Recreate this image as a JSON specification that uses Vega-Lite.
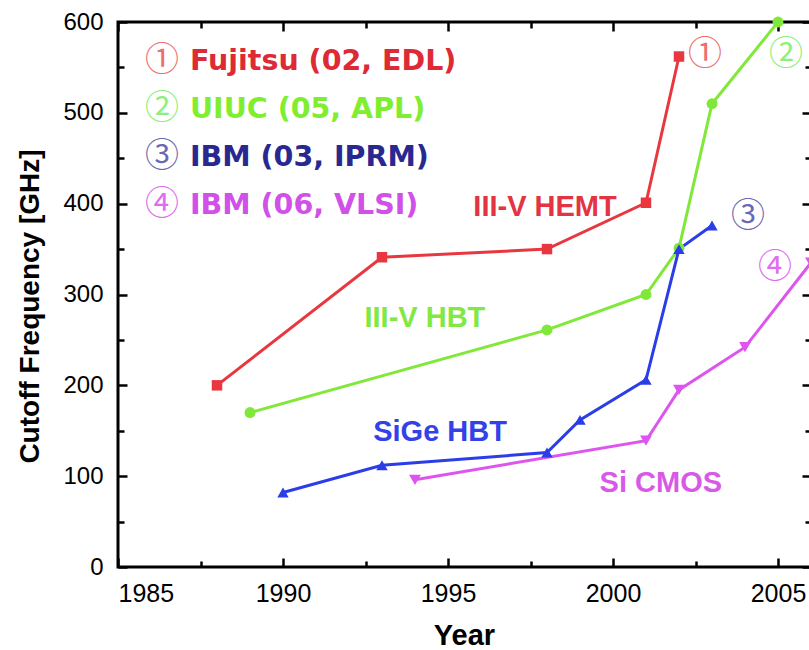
{
  "$schema": "https://vega.github.io/schema/vega-lite/v6.json",
  "width": 693,
  "height": 545,
  "autosize": {"type": "none"},
  "padding": {"left": 118, "top": 22, "right": 0, "bottom": 83},
  "background": "white",
  "config": {
    "view": {"stroke": "black", "strokeWidth": 3},
    "axis": {
      "domain": false,
      "grid": false,
      "tickColor": "black",
      "tickWidth": 2.5,
      "labelColor": "black",
      "labelFont": "Liberation Sans",
      "titleFont": "Liberation Sans",
      "titleColor": "black"
    }
  },
  "datasets": {
    "series": [
      {"series": "III-V HEMT", "year": 1988, "ghz": 200},
      {"series": "III-V HEMT", "year": 1993, "ghz": 341},
      {"series": "III-V HEMT", "year": 1998, "ghz": 350},
      {"series": "III-V HEMT", "year": 2001, "ghz": 401},
      {"series": "III-V HEMT", "year": 2002, "ghz": 562},
      {"series": "III-V HBT", "year": 1989, "ghz": 170},
      {"series": "III-V HBT", "year": 1998, "ghz": 261},
      {"series": "III-V HBT", "year": 2001, "ghz": 300},
      {"series": "III-V HBT", "year": 2002, "ghz": 351},
      {"series": "III-V HBT", "year": 2003, "ghz": 510},
      {"series": "III-V HBT", "year": 2005, "ghz": 600},
      {"series": "SiGe HBT", "year": 1990, "ghz": 82},
      {"series": "SiGe HBT", "year": 1993, "ghz": 112},
      {"series": "SiGe HBT", "year": 1998, "ghz": 126},
      {"series": "SiGe HBT", "year": 1999, "ghz": 162},
      {"series": "SiGe HBT", "year": 2001, "ghz": 206},
      {"series": "SiGe HBT", "year": 2002, "ghz": 350},
      {"series": "SiGe HBT", "year": 2003, "ghz": 376},
      {"series": "Si CMOS", "year": 1994, "ghz": 96},
      {"series": "Si CMOS", "year": 2001, "ghz": 139},
      {"series": "Si CMOS", "year": 2002, "ghz": 195},
      {"series": "Si CMOS", "year": 2004, "ghz": 242},
      {"series": "Si CMOS", "year": 2006, "ghz": 335}
    ],
    "seriesLabels": [
      {"series": "III-V HEMT", "year": 1997.94, "ghz": 396},
      {"series": "III-V HBT", "year": 1994.3, "ghz": 274},
      {"series": "SiGe HBT", "year": 1994.76, "ghz": 149},
      {"series": "Si CMOS", "year": 2001.45, "ghz": 92}
    ],
    "legendText": [
      {"who": "Fujitsu (02, EDL)", "year": 1987.18, "ghz": 557},
      {"who": "UIUC (05, APL)", "year": 1987.18, "ghz": 504},
      {"who": "IBM (03, IPRM)", "year": 1987.18, "ghz": 451},
      {"who": "IBM (06, VLSI)", "year": 1987.18, "ghz": 399}
    ],
    "circled": [
      {"mark": "①", "who": "1", "year": 1986.33, "ghz": 557},
      {"mark": "②", "who": "2", "year": 1986.33, "ghz": 504},
      {"mark": "③", "who": "3", "year": 1986.33, "ghz": 451},
      {"mark": "④", "who": "4", "year": 1986.33, "ghz": 399},
      {"mark": "①", "who": "1", "year": 2002.79, "ghz": 564},
      {"mark": "②", "who": "2", "year": 2005.24, "ghz": 564},
      {"mark": "③", "who": "3", "year": 2004.09, "ghz": 385},
      {"mark": "④", "who": "4", "year": 2004.91, "ghz": 329}
    ]
  },
  "resolve": {
    "axis": {"x": "independent", "y": "independent"},
    "scale": {"color": "independent", "size": "independent"}
  },
  "layer": [
    {
      "data": {"name": "series"},
      "mark": {"type": "line", "strokeWidth": 3},
      "encoding": {
        "x": {
          "field": "year", "type": "quantitative",
          "scale": {"domain": [1985, 2006], "nice": false, "zero": false},
          "axis": {
            "orient": "bottom",
            "offset": -9,
            "values": [1985, 1990, 1995, 2000, 2005],
            "format": "d",
            "tickSize": 9,
            "labelPadding": 14,
            "labelFontSize": 25,
            "title": "Year",
            "titleFontSize": 29,
            "titleFontWeight": "bold",
            "titleX": 346,
            "titleY": 77,
            "titleBaseline": "middle",
            "titleAlign": "center"
          }
        },
        "y": {
          "field": "ghz", "type": "quantitative",
          "scale": {"domain": [0, 600], "nice": false},
          "axis": {
            "orient": "left",
            "offset": -9,
            "values": [0, 100, 200, 300, 400, 500, 600],
            "tickSize": 9,
            "labelPadding": 15,
            "labelFontSize": 24,
            "title": "Cutoff Frequency [GHz]",
            "titleFontSize": 28,
            "titleFontWeight": "bold",
            "titleAngle": -90,
            "titleX": -97,
            "titleY": 284,
            "titleBaseline": "middle",
            "titleAlign": "center"
          }
        },
        "color": {
          "field": "series", "type": "nominal", "legend": null,
          "scale": {
            "domain": ["III-V HEMT", "III-V HBT", "SiGe HBT", "Si CMOS"],
            "range": ["#e8373f", "#80e838", "#2b3de8", "#dd55ee"]
          }
        }
      }
    },
    {
      "data": {"name": "series"},
      "mark": {"type": "point", "filled": true, "opacity": 1},
      "encoding": {
        "x": {
          "field": "year", "type": "quantitative",
          "axis": {"orient": "top", "offset": -9, "values": [1985, 1990, 1995, 2000, 2005], "labels": false, "tickSize": 9, "title": null}
        },
        "y": {
          "field": "ghz", "type": "quantitative",
          "axis": {"orient": "right", "offset": -9, "values": [0, 100, 200, 300, 400, 500, 600], "labels": false, "tickSize": 9, "title": null}
        },
        "color": {
          "field": "series", "type": "nominal", "legend": null,
          "scale": {
            "domain": ["III-V HEMT", "III-V HBT", "SiGe HBT", "Si CMOS"],
            "range": ["#e8373f", "#80e838", "#2b3de8", "#dd55ee"]
          }
        },
        "shape": {
          "field": "series", "type": "nominal", "legend": null,
          "scale": {
            "domain": ["III-V HEMT", "III-V HBT", "SiGe HBT", "Si CMOS"],
            "range": ["square", "circle", "triangle-up", "triangle-down"]
          }
        },
        "size": {
          "field": "series", "type": "nominal", "legend": null,
          "scale": {
            "domain": ["III-V HEMT", "III-V HBT", "SiGe HBT", "Si CMOS"],
            "range": [110, 140, 160, 160]
          }
        }
      }
    },
    {
      "data": {"name": "series"},
      "mark": {"type": "point", "opacity": 0},
      "encoding": {
        "x": {
          "field": "year", "type": "quantitative",
          "axis": {"orient": "bottom", "offset": -6, "values": [1987.5, 1992.5, 1997.5, 2002.5], "labels": false, "tickSize": 6, "title": null}
        },
        "y": {
          "field": "ghz", "type": "quantitative",
          "axis": {"orient": "left", "offset": -6, "values": [50, 150, 250, 350, 450, 550], "labels": false, "tickSize": 6, "title": null}
        }
      }
    },
    {
      "data": {"name": "series"},
      "mark": {"type": "point", "opacity": 0},
      "encoding": {
        "x": {
          "field": "year", "type": "quantitative",
          "axis": {"orient": "top", "offset": -6, "values": [1987.5, 1992.5, 1997.5, 2002.5], "labels": false, "tickSize": 6, "title": null}
        },
        "y": {
          "field": "ghz", "type": "quantitative",
          "axis": {"orient": "right", "offset": -6, "values": [50, 150, 250, 350, 450, 550], "labels": false, "tickSize": 6, "title": null}
        }
      }
    },
    {
      "data": {"name": "seriesLabels"},
      "mark": {"type": "text", "font": "Liberation Sans", "fontWeight": "bold", "fontSize": 29, "align": "center", "baseline": "middle"},
      "encoding": {
        "x": {"field": "year", "type": "quantitative", "axis": null},
        "y": {"field": "ghz", "type": "quantitative", "axis": null},
        "text": {"field": "series"},
        "color": {
          "field": "series", "type": "nominal", "legend": null,
          "scale": {
            "domain": ["III-V HEMT", "III-V HBT", "SiGe HBT", "Si CMOS"],
            "range": ["#e23442", "#82e842", "#3242e8", "#d858e8"]
          }
        }
      }
    },
    {
      "data": {"name": "legendText"},
      "mark": {"type": "text", "font": "DejaVu Sans", "fontWeight": "bold", "fontSize": 28.5, "align": "left", "baseline": "middle"},
      "encoding": {
        "x": {"field": "year", "type": "quantitative", "axis": null},
        "y": {"field": "ghz", "type": "quantitative", "axis": null},
        "text": {"field": "who"},
        "color": {
          "field": "who", "type": "nominal", "legend": null,
          "scale": {
            "domain": ["Fujitsu (02, EDL)", "UIUC (05, APL)", "IBM (03, IPRM)", "IBM (06, VLSI)"],
            "range": ["#dd2a35", "#80ee30", "#282890", "#d050e8"]
          }
        }
      }
    },
    {
      "data": {"name": "circled"},
      "mark": {"type": "text", "font": "Noto Sans CJK JP", "fontWeight": "normal", "fontSize": 34, "align": "center", "baseline": "middle"},
      "encoding": {
        "x": {"field": "year", "type": "quantitative", "axis": null},
        "y": {"field": "ghz", "type": "quantitative", "axis": null},
        "text": {"field": "mark"},
        "color": {
          "field": "who", "type": "nominal", "legend": null,
          "scale": {
            "domain": ["1", "2", "3", "4"],
            "range": ["#ec7070", "#8cf07a", "#6a6ab4", "#e06cf0"]
          }
        }
      }
    }
  ]
}
